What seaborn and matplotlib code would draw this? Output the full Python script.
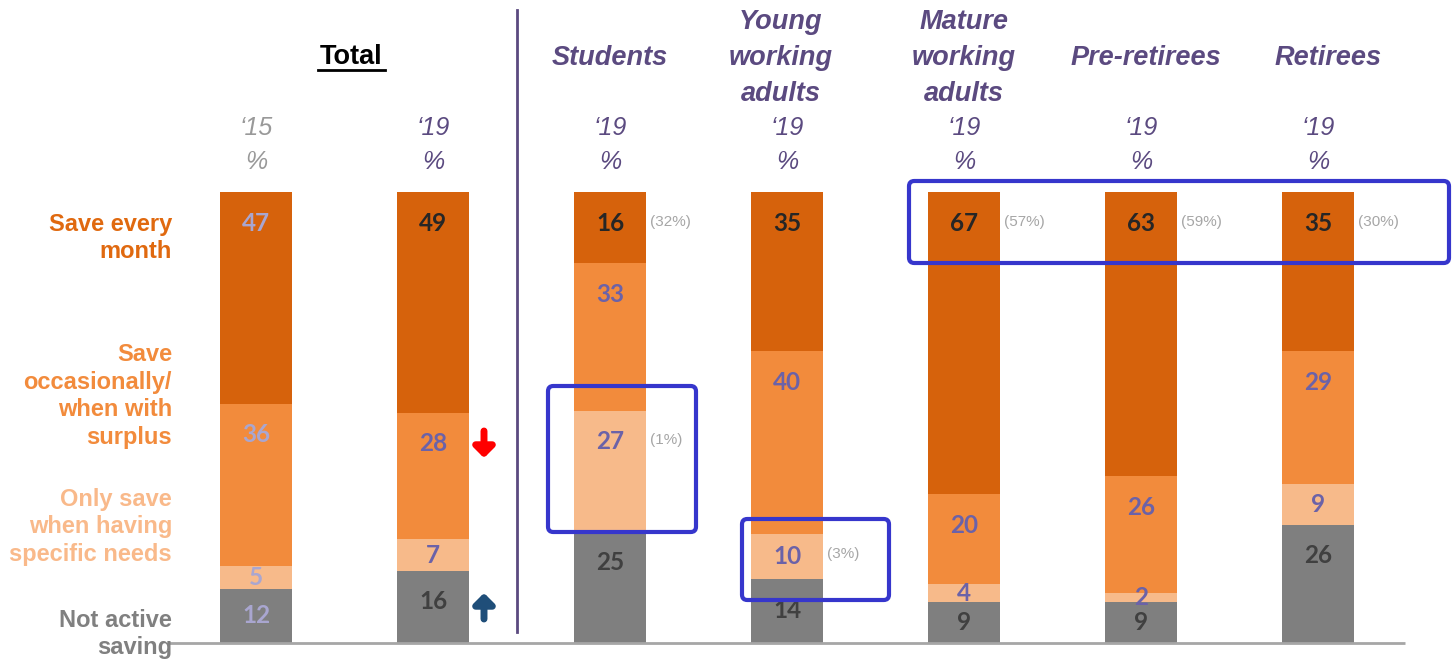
import numpy as np
import pandas as pd
import matplotlib
matplotlib.use("Agg")
import matplotlib.pyplot as plt
from matplotlib.patches import FancyBboxPatch
import seaborn as sns

# ---------------- data ----------------
columns = ["Total '15", "Total '19", "Students", "Young working adults",
           "Mature working adults", "Pre-retirees", "Retirees"]
not_active = [12, 16, 25, 14, 9, 9, 26]
specific_needs = [5, 7, 27, 10, 4, 2, 9]
occasionally = [36, 28, 33, 40, 20, 26, 29]
every_month = [47, 49, 16, 35, 67, 63, 35]
change_notes = ["", "", "(32%)", "", "(57%)", "(59%)", "(30%)"]
specific_notes = ["", "", "(1%)", "(3%)", "", "", ""]
segment_names = ["Not active\nsaving", "Only save\nwhen having\nspecific needs",
                 "Save\noccasionally/\nwhen with\nsurplus", "Save every\nmonth"]
group_titles = ["Students", "Young\nworking\nadults", "Mature\nworking\nadults",
                "Pre-retirees", "Retirees"]
year_labels = ["\u201815\n%", "\u201819\n%", "\u201819\n%", "\u201819\n%",
               "\u201819\n%", "\u201819\n%", "\u201819\n%"]

seg_colors = ["#7F7F7F", "#F7BA8A", "#F28B3C", "#D6620C"]
PURPLE = "#5B4A80"

# ---------------- figure geometry ----------------
W, H = 1455, 659
fig = plt.figure(figsize=(W / 100, H / 100), dpi=100)
ax = fig.add_axes([0, 0, 1, 1])

X0, XS = 256, 177          # pixel centre of first bar, spacing
Y0, YS = 643, 4.51         # pixel baseline, px per percent

def dx(px):
    return (px - X0) / XS

def dy(py):
    return (Y0 - py) / YS

layers = [not_active, specific_needs, occasionally, every_month]
vals = np.array(layers, dtype=float)
tot = vals.sum(axis=0)
norm = vals / tot * 100
cum = np.cumsum(norm, axis=0)

df = pd.DataFrame({"col": columns})
bar_w = 72 / XS
for i in range(3, -1, -1):
    df["h"] = cum[i]
    sns.barplot(data=df, x="col", y="h", order=columns, color=seg_colors[i],
                saturation=1, width=bar_w, linewidth=0, ax=ax, errorbar=None)

ax.set_xlim(dx(0), dx(W))
ax.set_ylim(dy(H), dy(0))
ax.axis("off")

# ---------------- value labels ----------------
num_font = dict(family="Lato", fontweight="bold", fontsize=17.5)
off = 31 / YS
for j in range(len(columns)):
    for i in range(4):
        top = cum[i, j]
        h = norm[i, j]
        y = top - min(off, h / 2)
        if j == 0:
            c = "#A9A6D0"
        elif i == 3:
            c = "#262626"
        elif i == 0:
            c = "#404040"
        else:
            c = "#6B62A8"
        ax.text(j, y, str(int(vals[i, j])), ha="center", va="center",
                color=c, **num_font)

# side notes
note_font = dict(family="Liberation Sans", fontsize=11, color="#A6A6A6")
for j, t in enumerate(change_notes):
    if t:
        ax.text(j + bar_w / 2 + 4 / XS, dy(222), t,
                ha="left", va="center", **note_font)
for j, t in enumerate(specific_notes):
    if t:
        ax.text(j + bar_w / 2 + 4 / XS,
                cum[1, j] - min(off, norm[1, j] / 2) + 2 / YS, t,
                ha="left", va="center", **note_font)

# ---------------- left category labels ----------------
left_colors = ["#808080", "#F9B98A", "#F28B3C", "#E0690F"]
left_y = [634, 527, 396, 238]
for name, c, py in zip(segment_names, left_colors, left_y):
    ax.text(dx(172), dy(py), name, ha="right", va="center", color=c,
            family="Liberation Sans", fontweight="bold", fontsize=17,
            linespacing=1.25)

# ---------------- headers ----------------
ax.text(dx(351), dy(57), "Total", ha="center", va="center", color="black",
        family="Liberation Sans", fontweight="bold", fontsize=19.5)
ax.plot([dx(318), dx(385)], [dy(70), dy(70)], color="black", lw=2)

title_x = [610, 781, 964, 1146, 1328]
for t, px in zip(group_titles, title_x):
    ax.text(dx(px), dy(58), t, ha="center", va="center",
            color=PURPLE, family="Liberation Sans", fontweight="bold",
            fontstyle="italic", fontsize=19.5, linespacing=1.48)

for j, t in enumerate(year_labels):
    c = "#999999" if j == 0 else PURPLE
    ax.text(j, dy(145), t, ha="center", va="center", color=c,
            family="Liberation Sans", fontstyle="italic", fontsize=18,
            linespacing=1.5)

# ---------------- lines ----------------
ax.plot([dx(517), dx(517)], [dy(10), dy(632)], color=PURPLE, lw=2)
ax.plot([dx(168), dx(1405)], [0, 0], color="#A6A6A6", lw=2, solid_capstyle="butt")

# ---------------- arrows ----------------
ax.annotate("", xy=(dx(484), dy(458)), xytext=(dx(484), dy(431)),
            arrowprops=dict(arrowstyle="-|>,head_width=0.6,head_length=0.6",
                            lw=5, color="#FF0000", shrinkA=0, shrinkB=0))
ax.annotate("", xy=(dx(484), dy(593)), xytext=(dx(484), dy(619)),
            arrowprops=dict(arrowstyle="-|>,head_width=0.6,head_length=0.6",
                            lw=5, color="#1F4E79", shrinkA=0, shrinkB=0))

# ---------------- highlight boxes ----------------
aspect = XS / YS
def box(x1, y1, x2, y2):
    p = FancyBboxPatch((dx(x1), dy(y2)), dx(x2) - dx(x1), dy(y1) - dy(y2),
                       boxstyle="round,pad=0,rounding_size=0.03",
                       mutation_aspect=aspect, fill=False,
                       edgecolor="#3636CC", lw=3, zorder=5)
    ax.add_patch(p)

box(548, 386, 696, 532)
box(742, 519, 889, 600)
box(909, 181, 1449, 263)

fig.savefig("out.png", dpi=100)
